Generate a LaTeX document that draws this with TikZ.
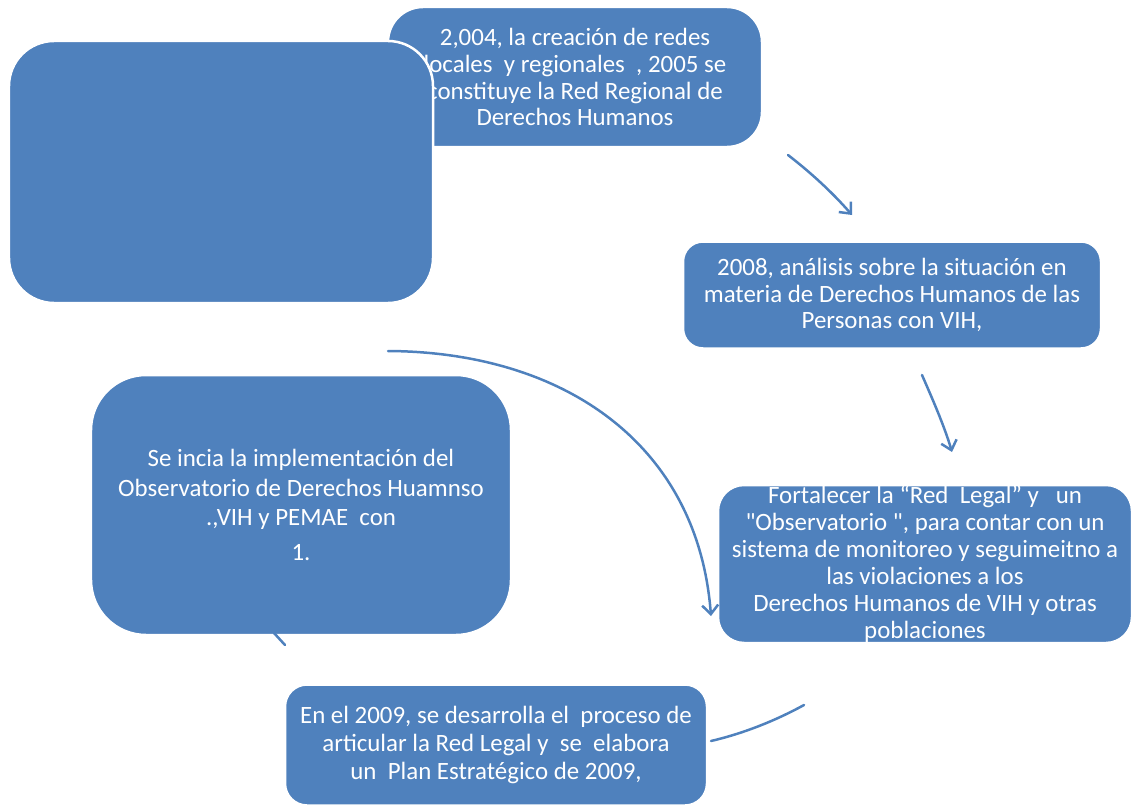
\documentclass[tikz,border=0pt]{standalone}
\usepackage{fontspec}
\setmainfont{Carlito}
\newfontfamily\qfont{Carlito}
\usetikzlibrary{arrows.meta}
\definecolor{boxblue}{HTML}{4F81BD}
\newcommand{\sq}{{\qfont"}}
\begin{document}
\begin{tikzpicture}[x=1bp,y=-1bp,
  box/.style={draw=white, line width=2.5bp, fill=boxblue, text=white, align=center,
    font=\fontsize{25}{27}\selectfont, inner sep=0pt},
  conn/.style={draw=boxblue, line width=2.5bp, line cap=round},
  arr/.style={conn, -{Straight Barb[length=9bp,width=16bp]}}]
\useasboundingbox (0,0) rectangle (1133,806);

\node[box, rounded corners=35bp, minimum width=374bp, minimum height=140bp] (b) at (575,77)
 {2,004, la creación de redes\\locales\ \ y regionales\ \ , 2005 se\\constituye la Red Regional de\\Derechos Humanos};
\node[box, rounded corners=45bp, minimum width=424bp, minimum height=262bp] (a) at (221,172) {};

\node[box, rounded corners=20bp, minimum width=418bp, minimum height=107bp] (c) at (892,295)
 {2008, análisis sobre la situación en\\materia de Derechos Humanos de las\\Personas con VIH,};

\node[box, rounded corners=26bp, minimum width=414bp, minimum height=158bp] (d) at (925,564)
 {Fortalecer la “Red\ \ Legal” y\ \ \ un\\\sq Observatorio \sq, para contar con un\\sistema de monitoreo y seguimeitno a\\las violaciones a los\\Derechos Humanos de VIH y otras\\poblaciones};

\node[box, rounded corners=55bp, minimum width=420bp, minimum height=260bp,
  font=\fontsize{25}{29.5}\selectfont] (e) at (301,505)
 {Se incia la implementación del\\Observatorio de Derechos Huamnso\\.,VIH y PEMAE\ \ con\\[5bp]1.};

\node[box, rounded corners=22bp, minimum width=422bp, minimum height=121bp,
  font=\fontsize{25}{28.5}\selectfont] (f) at (496,745)
 {En el 2009, se desarrolla el\ \ proceso de\\articular la Red Legal y\ \ se\ \ elabora\\un\ \ Plan Estratégico de 2009,};

\coordinate (a1s) at (788,155);
\coordinate (a1e) at (852,215);
\coordinate (a2s) at (922,375);
\coordinate (a2e) at (952,452);
\coordinate (a3s) at (388,351);
\coordinate (a3e) at (711,616);
\coordinate (l1s) at (711,741);
\coordinate (l1e) at (804,705);
\coordinate (l2s) at (274,633);
\coordinate (l2e) at (285,645);

\draw[arr] (a1s) .. controls (810,172) and (832,192) .. (a1e);
\draw[arr] (a2s) .. controls (932,398) and (944,425) .. (a2e);
\draw[arr] (a3s) .. controls (565,352) and (698,445) .. (a3e);
\draw[conn] (l1s) .. controls (741,734) and (773,722) .. (l1e);
\draw[conn] (l2s) -- (l2e);
\end{tikzpicture}
\end{document}
